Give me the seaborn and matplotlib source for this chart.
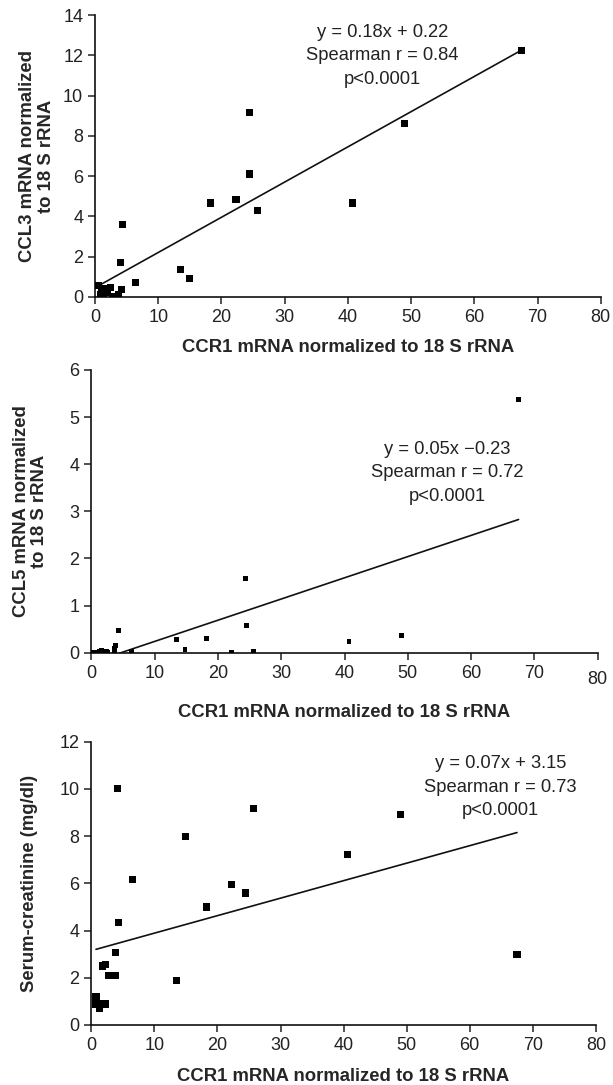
import numpy as np
import pandas as pd
import seaborn as sns
import matplotlib.pyplot as plt
from matplotlib.transforms import ScaledTranslation

# CCR1 vs CCL3
ccr1_a = [0.5, 0.8, 1.0, 1.3, 1.6, 2.0, 2.4, 2.7, 3.7, 4.2, 4.0, 4.3, 6.4, 13.5, 14.9, 18.3,
          22.3, 24.5, 24.5, 25.7, 40.7, 49.0, 67.5]
ccl3 = [0.55, 0.10, 0.30, 0.05, 0.40, 0.20, 0.45, 0.02, 0.13, 0.35, 1.72, 3.61, 0.73, 1.37, 0.89, 4.66,
        4.85, 6.10, 9.18, 4.27, 4.66, 8.63, 12.26]

# CCR1 vs CCL5
ccr1_b = [0.3, 0.7, 1.2, 1.6, 2.0, 2.4, 2.6, 3.6, 3.7, 3.8, 4.3, 6.3, 13.4, 14.8, 18.2, 22.1,
          24.4, 24.5, 25.6, 40.7, 49.0, 67.5]
ccl5 = [0.01, 0.01, 0.02, 0.04, 0.01, 0.03, 0.01, 0.04, 0.09, 0.16, 0.47, 0.03, 0.28, 0.07, 0.30, 0.01,
        1.58, 0.58, 0.03, 0.24, 0.37, 5.38]

# CCR1 vs serum creatinine
ccr1_c = [0.74, 0.74, 1.18, 1.24, 1.74, 2.3, 2.3, 2.73, 3.8, 3.9, 4.1, 4.28, 6.46, 13.5, 14.96, 18.25,
          22.2, 24.4, 25.7, 40.6, 49.0, 67.5]
creat = [1.19, 0.89, 0.89, 0.68, 2.5, 2.58, 0.89, 2.08, 3.09, 2.08, 10.0, 4.36, 6.18, 1.88, 8.0, 5.0,
         5.97, 5.59, 9.19, 7.22, 8.9, 3.0]

# trend lines as drawn (slope, intercept)
fit_a = (0.175, 0.45)
fit_b = (0.045, -0.21)
fit_c = (0.0741, 3.15)

notes_a = ["y = 0.18x + 0.22", "Spearman r = 0.84", "p<0.0001"]
notes_b = ["y = 0.05x \u22120.23", "Spearman r = 0.72", "p<0.0001"]
notes_c = ["y = 0.07x + 3.15", "Spearman r = 0.73", "p<0.0001"]

xlab = "CCR1 mRNA normalized to 18 S rRNA"

sns.set_style("ticks")
plt.rcParams['font.family'] = ['Liberation Sans', 'DejaVu Sans']
plt.rcParams['font.size'] = 13

fig = plt.figure(figsize=(6.13, 10.85), dpi=100)


def panel(rect, x, y, fit, notes, note_xy, ylabel, ylab_x, xpad, ymax, ystep, msize):
    ax = fig.add_axes(rect)
    df = pd.DataFrame({"x": x, "y": y})
    sns.scatterplot(data=df, x="x", y="y", marker="s", s=msize, color="black",
                    edgecolor="none", ax=ax, zorder=3)
    xs = np.array([min(x), max(x)])
    line = pd.DataFrame({"x": xs, "y": fit[0] * xs + fit[1]})
    sns.lineplot(data=line, x="x", y="y", color="#111111", linewidth=1.2, ax=ax)
    ax.set_xlim(0, 80)
    ax.set_ylim(0, ymax)
    ax.set_xticks(range(0, 81, 10))
    ax.set_yticks(np.arange(0, ymax + 0.01, ystep))
    ax.set_xlabel(xlab, fontweight="bold", fontsize=13.3, labelpad=xpad)
    ax.set_ylabel(ylabel, fontweight="bold", fontsize=13.3, linespacing=1.1)
    ax.yaxis.set_label_coords(ylab_x, 0.5)
    ax.tick_params(direction="out", length=5, width=1.1, labelsize=13, colors="#222222")
    for sp in ["left", "bottom"]:
        ax.spines[sp].set_linewidth(1.2)
        ax.spines[sp].set_color("#111111")
    sns.despine(ax=ax)
    ax.text(note_xy[0], note_xy[1], "\n".join(notes), ha="center", va="top",
            fontsize=13.2, color="#222222", linespacing=1.5)
    return ax


panel([0.155, 0.7265, 0.825, 0.2596], ccr1_a, ccl3, fit_a, notes_a, (45.5, 13.58),
      "CCL3 mRNA normalized\nto 18 S rRNA", -0.08, 9.5, 14, 2, 26)
ax2 = panel([0.149, 0.3984, 0.826, 0.2606], ccr1_b, ccl5, fit_b, notes_b, (56.3, 4.50),
            "CCL5 mRNA normalized\nto 18 S rRNA", -0.085, 11.5, 6, 1, 12)
panel([0.149, 0.0553, 0.823, 0.2611], ccr1_c, creat, fit_c, notes_c, (64.9, 11.43),
      "Serum-creatinine (mg/dl)", -0.105, 10.5, 12, 2, 26)

# the "80" on the middle panel sits a bit lower than the other tick labels
lab80 = ax2.get_xticklabels()[-1]
lab80.set_transform(lab80.get_transform() + ScaledTranslation(0, -4.5 / 72, fig.dpi_scale_trans))

fig.savefig("out.png", dpi=100, facecolor="white")
